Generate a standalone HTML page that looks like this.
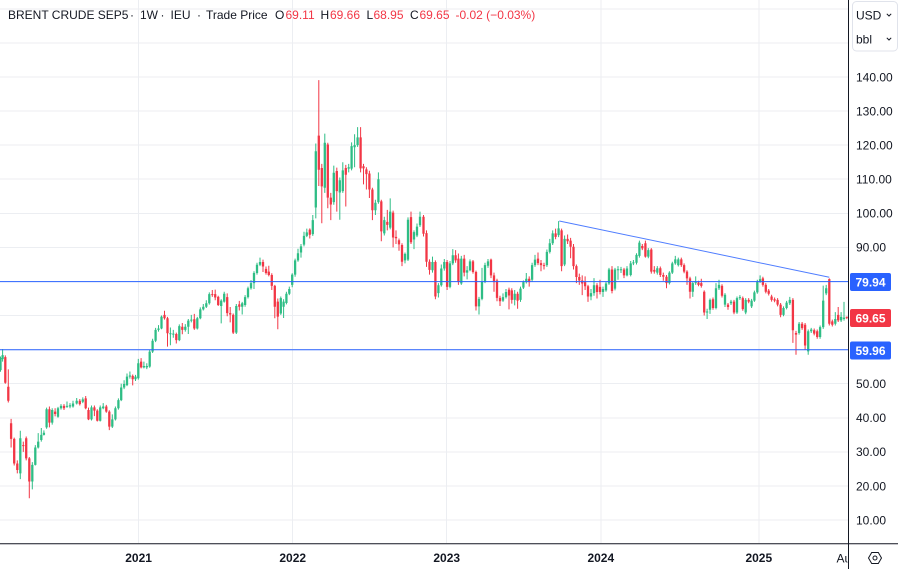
<!DOCTYPE html>
<html><head><meta charset="utf-8"><style>
html,body{margin:0;padding:0;background:#fff;width:898px;height:569px;overflow:hidden}
svg{display:block}
text{font-family:"Liberation Sans",Arial,sans-serif}
</style></head><body>
<svg width="898" height="569" viewBox="0 0 898 569" xmlns="http://www.w3.org/2000/svg">
<defs>
<clipPath id="c"><rect x="0" y="0" width="848" height="543"/></clipPath>
<clipPath id="a"><rect x="780" y="545" width="67.5" height="24"/></clipPath>
</defs>
<rect width="898" height="569" fill="#fff"/>
<g stroke="#eceef2" stroke-width="1" shape-rendering="crispEdges">
<line x1="0" x2="848" y1="8.84" y2="8.84"/><line x1="0" x2="848" y1="42.92" y2="42.92"/>
<line x1="0" x2="848" y1="77" y2="77"/><line x1="0" x2="848" y1="111.08" y2="111.08"/>
<line x1="0" x2="848" y1="145.16" y2="145.16"/><line x1="0" x2="848" y1="179.24" y2="179.24"/>
<line x1="0" x2="848" y1="213.32" y2="213.32"/><line x1="0" x2="848" y1="247.4" y2="247.4"/>
<line x1="0" x2="848" y1="281.48" y2="281.48"/><line x1="0" x2="848" y1="315.56" y2="315.56"/>
<line x1="0" x2="848" y1="349.64" y2="349.64"/><line x1="0" x2="848" y1="383.72" y2="383.72"/>
<line x1="0" x2="848" y1="417.8" y2="417.8"/><line x1="0" x2="848" y1="451.88" y2="451.88"/>
<line x1="0" x2="848" y1="485.96" y2="485.96"/><line x1="0" x2="848" y1="520.04" y2="520.04"/>
<line x1="138.6" x2="138.6" y1="0" y2="543"/><line x1="292.7" x2="292.7" y1="0" y2="543"/>
<line x1="446.7" x2="446.7" y1="0" y2="543"/><line x1="600.8" x2="600.8" y1="0" y2="543"/>
<line x1="758.8" x2="758.8" y1="0" y2="543"/>
</g>
<g clip-path="url(#c)">
<g transform="matrix(1 0 0 -3.408 0 554.12)" fill="none">
<path stroke="#2ebd85" stroke-width="1" vector-effect="non-scaling-stroke" d="M0.5 53.5V58M2.6 56.5V60.2M20.3 22V36.2M32.3 19V27M35.3 26V32M38.2 31V35.5M41.3 33V37M43.9 34.8V36.3M46.6 36.8V43M52.2 38V42.8M58 40V43.2M61 42.4V44M67 42.9V44.8M70 42.8V44.3M73 43V45M76.7 43.9V45.8M82.8 44.3V46M91.5 39.2V43.6M100.2 38.9V43.6M103.2 42.5V44.3M112.3 37V41M115.4 39.2V43.3M118.4 42.4V45.7M121.2 44.9V50M124.1 48.4V51M127 49.3V53M129.9 51.5V53.6M135.5 50.8V52.6M138.3 51.2V57.3M143.9 54.5V56.5M146.8 54.3V56M149.7 54.7V60M152.6 59V63.2M155.6 62.2V66.4M158.5 65.3V67.2M161.5 66V70M170.4 61.3V66.5M173.3 63.5V65.8M179.3 62.5V67.4M185.3 65.3V67.5M188.3 64.6V69M191.3 68V70.2M197.3 65.9V69.6M200.3 68.9V72.4M203.3 71.5V73.4M206.3 72.2V74.5M209.3 73.2V76.8M221.2 67.7V74.8M224.2 73.8V77M236.3 64.6V73.4M242.2 70.3V74M245.1 72.6V76M248 75V78.5M251 77.6V80.4M254 77.8V83M257 82V85.5M260 84.5V87M280.8 70.2V75.6M283.6 69.3V74.8M286.4 73.3V77M289.3 76V78.5M292.2 78.3V82.4M295.1 81.4V86.7M298 85.8V89.6M301 87V91M304 90.3V94.6M306.8 93V95.5M312.8 93.4V99.5M315.8 98.5V120.5M324.8 106V123.4M333.8 102.5V114M339.8 98.1V110.5M342.8 106V115M348.7 112V114.5M351.6 112.6V120.8M354.6 113.5V123.2M357.6 119.5V125.3M375.4 99.5V104M378.4 102.8V112M384.3 93.5V99M390.2 95.3V104.4M405 85.3V88.5M408 86V98.8M414 89.5V95M417 93V97M420 96V100.5M432.5 82.6V87.3M438.4 75.3V79.5M441.3 78.5V85M444.3 83.2V86.6M450 78V86M452.8 84.8V89.5M461.3 79V87.5M467.1 80.6V84.5M470 83V86.5M479 70.3V75.5M482 74.5V84M485 79.5V85.5M488 84V86.6M503 74V76.5M506 75V77.8M514.7 73V77.5M520.5 74V78.5M523.4 77.8V80.3M526.3 79.4V82.5M532.1 80V85.5M535 84.3V87.8M546.9 84.3V89.4M549.8 88.2V92.5M552.7 90.7V95M558.6 93V97.7M564.6 84.5V93.5M591 74.5V77.8M594 75.8V81M603 75.5V78.5M606 77V80M609 79V84M615 77.4V84M618 80.5V84.5M621 82.5V84.3M627 81.5V84.5M630.7 81.5V86M633.4 84.8V86.3M636.5 85V88.3M639.4 87V92M648.3 86.8V89.8M657.3 82V84.5M669.4 79.1V83M672.3 82.2V85.8M675.3 84.9V87.5M678.3 84.4V87M692.8 75.5V80M695.7 79V81.5M707.1 69V72M710 70.5V75M716 71.8V79.5M719 77.5V80.5M725 72.5V76.6M731 73.1V74.6M737 70.5V75.6M739.9 74.6V76M745.7 70.4V75.1M751.6 72.2V74.9M754.4 74V77.3M757.3 76.4V80.5M760.1 79.6V81.8M783.5 69.8V72.7M786.6 71.8V74.3M789.8 73.1V75.5M799.1 64.4V68.1M808.2 58.5V65.9M811.2 64.9V66.4M820.1 63.2V67.1M823.2 66.1V78.8M826.2 76V79M835.3 67.1V71M841.1 68.1V71M844 68.5V74"/>
<path stroke="#2ebd85" stroke-width="2.3" vector-effect="non-scaling-stroke" d="M0.5 54V57.5M2.6 57.2V58.4M20.3 23.7V34M32.3 21.3V26.2M35.3 26.2V31.3M38.2 31.3V33M41.3 33.5V35M43.9 35V35.6M46.6 37.2V42.5M52.2 38.6V42.3M58 40.3V42.8M61 42.8V43.5M67 43.2V43.5M70 43.3V43.7M73 43.3V44.2M76.7 44.2V45M82.8 44.7V45.4M91.5 39.55V43.07M100.2 39.15V43.07M103.2 42.8V43.3M112.3 37.4V39.55M115.4 39.55V42.8M118.4 42.8V45.2M121.2 45.2V48.9M124.1 48.9V49.9M127 49.6V52.1M129.9 52.1V52.4M135.5 51.3V52.1M138.3 51.6V56M143.9 54.8V55.2M146.8 54.8V55.2M149.7 55V59.4M152.6 59.4V62.6M155.6 62.6V65.8M158.5 65.8V66.2M161.5 66.2V69.7M170.4 64.5V64.8M173.3 64.4V64.7M179.3 62.8V66.9M185.3 65.8V66.7M188.3 66.7V68.5M191.3 68.5V68.8M197.3 66.2V69.2M200.3 69.2V71.8M203.3 71.8V72.6M206.3 72.6V73.6M209.3 73.6V76.3M221.2 72.8V74.4M224.2 74.1V76.4M236.3 65V72.8M242.2 72.6V73.6M245.1 73.1V75.4M248 75.4V78M251 78V79.5M254 79.5V82.5M257 82.5V84.9M260 84.9V85.7M280.8 70.6V75.1M283.6 72.6V74.1M286.4 73.7V76.4M289.3 76.4V77.8M292.2 79V82M295.1 82V86.2M298 86.2V88.3M301 88.5V90.3M304 90.8V93.4M306.8 93.4V94.4M312.8 93.9V98M315.8 101.7V118.2M324.8 107.5V120.7M333.8 103.3V111.9M339.8 106.1V109.7M342.8 106.5V112.6M348.7 113.1V113.5M351.6 113.1V119.7M354.6 119.4V120M357.6 120V122.3M375.4 100.9V103.1M378.4 103.3V110M384.3 94.1V98M390.2 95.8V100.5M405 86.2V88.1M408 86.4V98.1M414 92.3V94.5M417 93.5V96.1M420 96.5V99M432.5 83.3V85.7M438.4 76.6V78.9M441.3 78.9V83.8M444.3 83.8V85.7M450 78.4V85.3M452.8 85.3V87.7M461.3 79.4V86.7M467.1 82.6V83.3M470 83.3V85.9M479 72.7V74.9M482 74.9V80M485 80V84.8M488 84.6V85.9M503 74.4V75.4M506 75.4V76.9M514.7 74.6V76.4M520.5 74.6V77.9M523.4 78.2V79.8M526.3 79.8V80.8M532.1 80.5V84.8M535 84.8V86.4M546.9 84.8V88.7M549.8 88.7V91.2M552.7 91.2V94.1M558.6 93.6V95.6M564.6 85V92.5M591 75.6V76.6M594 76.6V78.9M603 76.9V77.8M606 77.4V79.4M609 79.4V83.5M615 77.9V83.5M618 83.3V83.6M621 83.3V83.6M627 81.8V83.8M630.7 81.9V85.3M633.4 85.3V85.6M636.5 85.5V87.8M639.4 87.5V91.4M648.3 87.3V89.2M657.3 82.6V83.9M669.4 79.5V82.6M672.3 82.6V85.3M675.3 85.3V86.5M678.3 84.8V86.5M692.8 77V79.5M695.7 79.5V79.8M707.1 70.9V71.2M710 71.7V74.6M716 72.2V78M719 78V79M725 73.2V76.1M731 73.6V74.1M737 70.9V75.1M739.9 75.1V75.4M745.7 70.9V74.6M751.6 72.7V74.4M754.4 74.4V76.8M757.3 76.8V80M760.1 80V80.7M783.5 70.2V72.2M786.6 72.2V73.8M789.8 73.6V74.6M799.1 64.9V67.6M808.2 59.5V65.4M811.2 65.4V65.9M820.1 63.7V66.6M823.2 66.6V74.4M826.2 76.5V78M835.3 67.6V69M841.1 68.6V69.6M844 69V69.4"/>
<path stroke="#f23645" stroke-width="1" vector-effect="non-scaling-stroke" d="M5.3 50V58.3M8.3 44.5V54.2M11.1 31.3V39.7M14.2 26V34.2M17.3 23.7V27.5M23.3 30V33M26.2 27.5V34.5M29.3 16.4V28.5M49.4 37.2V43.3M55.1 40.4V42.8M64 42.3V44M79.8 43.6V45.5M85.7 42.5V46.4M88.5 39.3V43M94.4 40.5V43.6M97.3 38.9V42.5M106.3 41.5V43.8M109.3 36.4V42.2M132.7 49.5V52.7M141.1 54.5V57.5M164.5 68.8V71.4M167.5 60.9V69.6M176.3 61.8V65M182.3 64.5V67.8M194.3 65.8V70.5M212.3 75.5V77.5M215.2 74.5V77.6M218.2 72.8V75.8M227.2 69.8V76.5M230.2 68V72.5M233.2 64.6V70.6M239.3 71.5V74.3M263 82.8V86.4M266 82V84.4M268.8 81.5V84.6M271.8 77.5V82.4M274.8 69.2V79M277.8 66V75M309.8 92.6V95.6M318.8 108V139.1M321.8 97.1V114.5M327.8 101.5V120.7M330.8 98V106M336.8 100.5V113.4M345.8 102V114.2M360.6 112V125.3M363.5 108.5V114.5M366.4 107V113.5M369.4 104.5V112.5M372.4 98V107.5M381.3 91.8V104M387.3 95V101M393.1 90V100.8M396 91V95M399 89V92.6M402 84.5V91.2M411 91V100.5M423.5 93.2V99.5M426.5 84.3V95M429.5 82V86.5M435.4 74.8V86.2M447.1 77.5V86.3M455.6 85.5V89.2M458.4 79V88.2M464.2 81.5V87.8M473 82.3V86.3M476 71.5V83.2M491 81V86.7M494 77V82.6M497 74.2V80.8M500 72.8V75.8M509 71.8V78.2M511.8 73.5V78M517.6 72V77M529.2 78.5V81.5M538 84.8V88.5M541 83V86.3M544 83.5V85.5M555.6 92.4V95.5M561.6 83V95.5M567.6 91V93.8M570.6 86.8V92.8M573.5 83.5V91M576.4 79.5V85M579.3 79V82.3M582.2 76V81.8M585.1 77.5V81.5M588 74V79M597 75V79.5M600 76.2V80.5M612 76.5V84.5M624 81V84M642.3 89.2V91M645.4 87V92M651.3 82.3V89.8M654.3 82.3V84.5M660.3 81.3V84.4M663.3 80.2V82.6M666.5 78V81.9M681.3 84.3V87M684.1 82.4V85.3M687 79V83.3M690 75V81.4M698.5 78.6V80.2M701.3 78.2V80.8M704.2 70V77.4M713 71.7V75.3M722 75.3V79.2M728 71.7V73.7M734 70.4V74.6M742.8 71.4V75.6M748.7 73.6V75.1M762.9 78.5V81.4M765.8 76.5V79.5M768.7 75.9V77.8M771.6 74.1V76.1M774.6 73.9V75.3M777.6 72.7V75.1M780.6 69.5V73.7M792.9 62V75.1M796 58.5V65.5M802.1 65.8V68.1M805.1 60V67.8M814.2 64.2V66.2M817.2 63.2V65.9M829.3 67.1V80.9M832.3 66.8V68.8M838.2 68.1V72.5M846.8 68.95V69.7"/>
<path stroke="#f23645" stroke-width="2.3" vector-effect="non-scaling-stroke" d="M5.3 50.3V57.8M8.3 45V49.1M11.1 33.8V38.4M14.2 26.6V33.8M17.3 24.7V26.6M23.3 31.7V32M26.2 28.1V34M29.3 21.3V28.1M49.4 38.6V42.5M55.1 41.1V41.8M64 42.8V43.5M79.8 44V45M85.7 42.8V45.7M88.5 39.55V42.3M94.4 42.1V43.07M97.3 39.15V42.1M106.3 41.8V43.3M109.3 37.4V41.8M132.7 51.3V52.3M141.1 54.8V56.5M164.5 69.2V70.2M167.5 64.8V69.2M176.3 62.8V64.6M182.3 65.8V66.7M194.3 66.2V68.9M212.3 76V76.3M215.2 75.3V76.3M218.2 73.1V75.5M227.2 70.7V75.4M230.2 70.3V70.7M233.2 65V70.2M239.3 72.6V73.3M263 84.4V85.7M266 82.5V83.7M268.8 81.9V82.9M271.8 78.7V81.9M274.8 72.6V78.7M277.8 69.7V74.1M309.8 93.7V95.2M318.8 112.8V122.8M321.8 107.9V113.3M327.8 104.6V120.2M330.8 102.6V104.6M336.8 106.5V112.4M345.8 111.3V113.3M360.6 113.2V122.3M363.5 113.2V113.8M366.4 111.5V112.9M369.4 107V111.7M372.4 100.9V107M381.3 94.7V103.5M387.3 96.6V97.5M393.1 92.9V100.2M396 92.7V93.1M399 90.9V92.1M402 85.8V90.7M411 91.5V98.9M423.5 94V99M426.5 85.8V94.2M429.5 83.4V85.8M435.4 75.6V85.7M447.1 78.4V85.7M455.6 86.2V87.7M458.4 79.8V86.7M464.2 82.6V86.7M473 82.8V85.9M476 72.7V82.8M491 81.8V86.4M494 79.8V81.8M497 75.2V80.3M500 74.2V75.2M509 75.9V77.6M511.8 74.6V77.4M517.6 74.4V76.4M529.2 79.8V80.8M538 85.4V86.7M541 84.8V85.4M544 84.5V84.8M555.6 93.1V94.1M561.6 84.5V95M567.6 91.8V92.5M570.6 90.2V92M573.5 84.5V90.2M576.4 81.3V84.5M579.3 80.3V81.3M582.2 79.4V80.3M585.1 78.6V79.8M588 75.6V78.6M597 76.9V78.9M600 76.9V78.4M612 77.2V83.5M624 81.8V83.5M642.3 89.7V90.4M645.4 87.3V91.2M651.3 82.9V89.4M654.3 82.9V83.4M660.3 81.9V83.9M663.3 81.4V81.9M666.5 79.5V81.4M681.3 84.8V86.5M684.1 82.9V84.8M687 80.9V82.9M690 77V80.9M698.5 79V79.7M701.3 78.7V79.5M704.2 70.9V77M713 72.2V74.8M722 75.8V78.7M728 72.5V73.2M734 70.9V74.1M742.8 71.9V75.1M748.7 74.1V74.6M762.9 79V80.9M765.8 77V79M768.7 76.4V77.3M771.6 74.6V75.6M774.6 74.4V74.8M777.6 73.2V74.6M780.6 70.2V73.2M792.9 65.7V74.6M796 64.4V64.9M802.1 66.3V67.6M805.1 61.2V67.3M814.2 64.7V65.7M817.2 63.7V65.4M829.3 67.6V80.7M832.3 67.3V68.3M838.2 68.6V70.2M846.8 69.35V69.66"/>
</g>
<line x1="0" x2="848" y1="281.68" y2="281.68" stroke="#2962ff" stroke-width="1"/>
<line x1="0" x2="848" y1="349.77" y2="349.77" stroke="#2962ff" stroke-width="1"/>
<line x1="559.3" y1="221" x2="829.3" y2="277.3" stroke="#4f7dff" stroke-width="1"/>
</g>
<!-- legend -->
<g font-size="12" fill="#131722">
<text x="8" y="19">BRENT CRUDE SEP5</text>
<text x="130" y="19">·</text>
<text x="140" y="19">1W</text>
<text x="160.5" y="19">·</text>
<text x="170.5" y="19">IEU</text>
<text x="197" y="19">·</text>
<text x="206" y="19">Trade Price</text>
<text x="275" y="19">O</text>
<text x="320.5" y="19">H</text>
<text x="366.5" y="19">L</text>
<text x="410" y="19">C</text>
</g>
<g font-size="12" fill="#f23645">
<text x="285.5" y="19">69.11</text>
<text x="330" y="19">69.66</text>
<text x="373.5" y="19">68.95</text>
<text x="419.5" y="19">69.65</text>
<text x="455.5" y="19">-0.02 (−0.03%)</text>
</g>
<!-- axes -->
<line x1="848.5" x2="848.5" y1="0" y2="569" stroke="#131722" stroke-width="1"/>
<line x1="0" x2="898" y1="543.8" y2="543.8" stroke="#131722" stroke-width="1"/>
<rect x="852.5" y="1.5" width="45" height="49.5" rx="4" fill="#fff" stroke="#e0e3eb"/>
<g font-size="12" fill="#131722">
<text x="856" y="19.5">USD</text>
<text x="856" y="43.5">bbl</text>
</g>
<path d="M886.8 13.8L889 16L891.2 13.8M886.8 37.8L889 40L891.2 37.8" fill="none" stroke="#131722" stroke-width="1"/>
<g font-size="12" fill="#131722">
<text x="856" y="81.3">140.00</text>
<text x="856" y="115.4">130.00</text>
<text x="856" y="149.5">120.00</text>
<text x="856" y="183.5">110.00</text>
<text x="856" y="217.6">100.00</text>
<text x="856" y="251.7">90.00</text>
<text x="856" y="388">50.00</text>
<text x="856" y="422.1">40.00</text>
<text x="856" y="456.2">30.00</text>
<text x="856" y="490.3">20.00</text>
<text x="856" y="524.3">10.00</text>
</g>
<rect x="850" y="273" width="41" height="18" rx="2" fill="#2962ff"/>
<text x="870.5" y="286.3" font-size="12" font-weight="bold" fill="#fff" text-anchor="middle">79.94</text>
<rect x="850" y="309" width="41" height="18" rx="2" fill="#f23645"/>
<text x="870.5" y="322.3" font-size="12" font-weight="bold" fill="#fff" text-anchor="middle">69.65</text>
<rect x="850" y="341.5" width="41" height="18" rx="2" fill="#2962ff"/>
<text x="870.5" y="354.8" font-size="12" font-weight="bold" fill="#fff" text-anchor="middle">59.96</text>
<g font-size="12" font-weight="bold" fill="#131722" text-anchor="middle">
<text x="138.6" y="562">2021</text>
<text x="292.7" y="562">2022</text>
<text x="446.7" y="562">2023</text>
<text x="600.8" y="562">2024</text>
<text x="758.8" y="562">2025</text>
</g>
<g clip-path="url(#a)"><text x="836.5" y="562.3" font-size="12" fill="#131722">Aug</text></g>
<polygon points="868.5,558 871.7,552.5 878.3,552.5 881.5,558 878.3,563.5 871.7,563.5" fill="none" stroke="#131722" stroke-width="1"/>
<circle cx="875" cy="558" r="2" fill="none" stroke="#131722" stroke-width="1"/>
</svg>
</body></html>
